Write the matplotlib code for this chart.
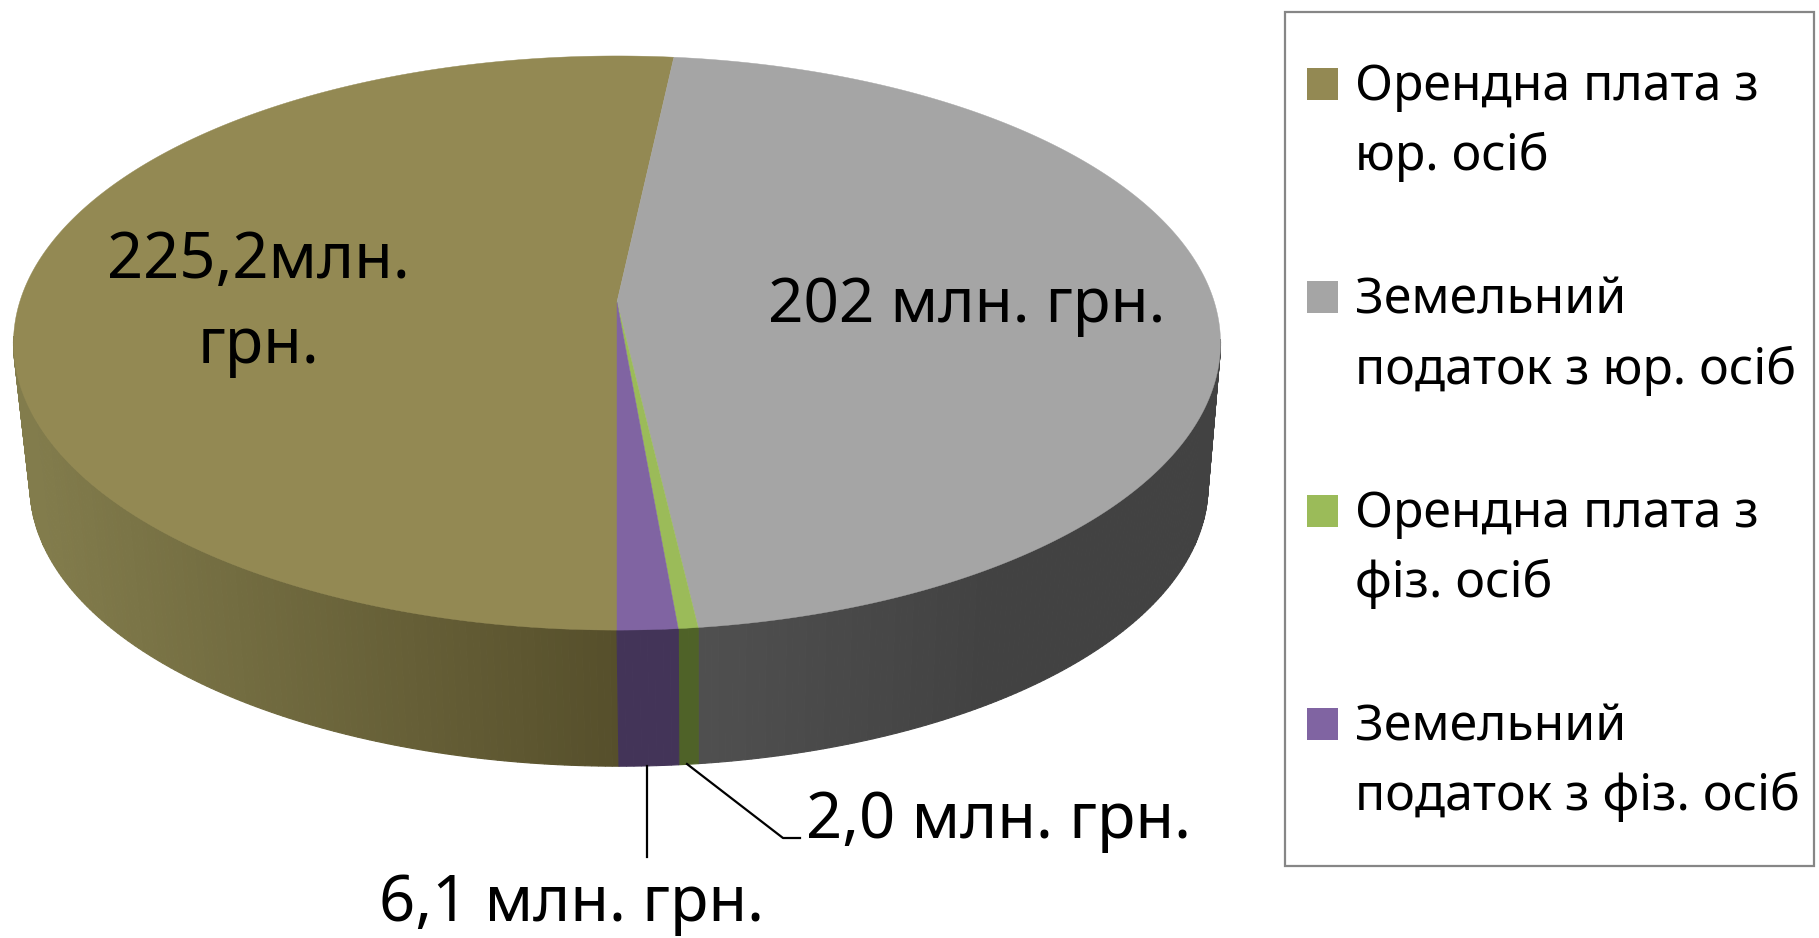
import numpy as np
import matplotlib
matplotlib.use("Agg")
import matplotlib.pyplot as plt
from matplotlib.patches import Rectangle

plt.rcParams["font.family"] = ["Noto Sans", "DejaVu Sans"]

# clockwise from the front of the pie
values = [225.2, 202, 2.0, 6.1]
legend_labels = ["Орендна плата з\nюр. осіб", "Земельний\nподаток з юр. осіб",
                 "Орендна плата з\nфіз. осіб", "Земельний\nподаток з фіз. осіб"]
top_colors = ["#938953", "#A5A5A5", "#9BBB59", "#8064A2"]
wall_left = ["#827C4C", "#505050", "#4F6228", "#433458"]
wall_right = ["#564F2B", "#424242", "#4F6228", "#433458"]

# pie geometry in pixels
cx, cy = 617, 302
a, b, k = 597.3, 281.2, 0.1429
drop, shrink = 144, 0.976


def top_edge(t):
    # circle seen in perspective, t is clockwise from the front
    u = -np.sin(t)
    v = -np.cos(t)
    d = 1 + k * v
    return a * u / d, -b * v / d


fig = plt.figure(figsize=(18.19, 9.38), dpi=100)
ax = fig.add_axes([0, 0, 1, 1])
ax.set_xlim(0, 1819)
ax.set_ylim(938, 0)
ax.axis("off")

edges = np.concatenate([[0], np.cumsum(values)]) / sum(values) * 2 * np.pi

# side wall, thin strips so the shade can change across it
for i in range(len(values)):
    n = max(int((edges[i + 1] - edges[i]) / 0.01), 2)
    ts = np.linspace(edges[i], edges[i + 1], n + 1)
    x, y = top_edge(ts)
    xt, yt = cx + x, cy + y
    xb, yb = cx + shrink * x + 2, cy + drop + shrink * y
    c0 = np.array(matplotlib.colors.to_rgb(wall_left[i]))
    c1 = np.array(matplotlib.colors.to_rgb(wall_right[i]))
    for j in range(n):
        # back of the wall is hidden behind the top face
        if -np.cos(ts[j]) > -k + 0.02:
            continue
        mid = (xt[j] + xt[j + 1]) / 2
        if i == 0:
            f = np.clip((mid - 30) / (cx - 30), 0, 1)
        else:
            f = np.clip((mid - 690) / 300, 0, 1)
        col = c0 + (c1 - c0) * f
        ax.fill([xt[j], xt[j + 1], xb[j + 1], xb[j]], [yt[j], yt[j + 1], yb[j + 1], yb[j]],
                facecolor=col, edgecolor=col, lw=0.8, zorder=2)

# top face
for i in range(len(values)):
    ts = np.linspace(edges[i], edges[i + 1], 400)
    x, y = top_edge(ts)
    ax.fill(np.r_[cx, cx + x], np.r_[cy, cy + y], facecolor=top_colors[i],
            edgecolor=top_colors[i], lw=0.3, zorder=3)

# data labels
label_size = 45.5
ax.text(258, 278, "225,2млн.", fontsize=label_size, ha="center", va="baseline", zorder=5)
ax.text(258, 363, "грн.", fontsize=label_size, ha="center", va="baseline", zorder=5)
ax.text(967, 322, "202 млн. грн.", fontsize=44.7, ha="center", va="baseline", zorder=5)
ax.text(806, 838, "2,0 млн. грн.", fontsize=label_size, ha="left", va="baseline", zorder=5)
ax.text(571, 921, "6,1 млн. грн.", fontsize=label_size, ha="center", va="baseline", zorder=5)

# leader lines
ax.plot([647, 647], [766, 857], color="black", lw=1.6, zorder=5)
ax.plot([687, 783, 800], [764, 838, 838], color="black", lw=1.6, zorder=5)

# legend
ax.add_patch(Rectangle((1285, 12), 529, 854, facecolor="white", edgecolor="#868686", lw=1.6, zorder=1))
for i, label in enumerate(legend_labels):
    y0 = 100 + 213.5 * i
    ax.add_patch(Rectangle((1307, y0 - 32), 31, 32, facecolor=top_colors[i], edgecolor="none", zorder=4))
    line1, line2 = label.split("\n")
    ax.text(1355, y0, line1, fontsize=35.9, ha="left", va="baseline", zorder=5)
    ax.text(1355, y0 + 70, line2, fontsize=35.9, ha="left", va="baseline", zorder=5)

fig.savefig("out.png", dpi=100)
